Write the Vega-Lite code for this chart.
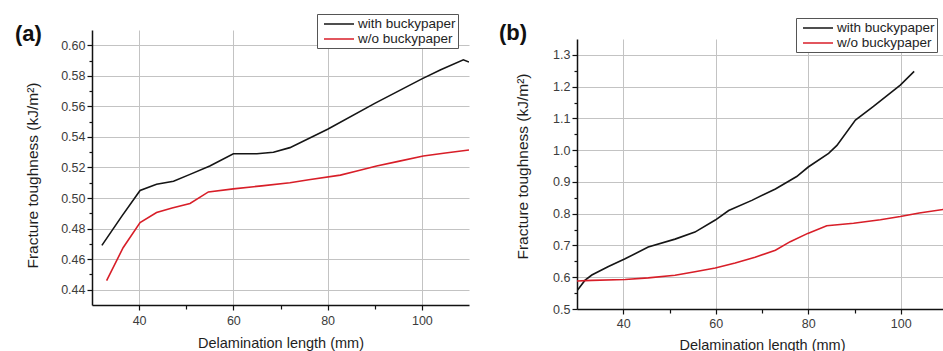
{
  "$schema": "https://vega.github.io/schema/vega-lite/v6.json",
  "padding": {"left": 15, "top": 13, "right": 0, "bottom": 0},
  "spacing": 30,
  "background": "white",
  "config": {
    "view": {"stroke": null},
    "font": "Liberation Sans",
    "axis": {
      "labelFont": "Liberation Sans",
      "titleFont": "Liberation Sans",
      "labelFontSize": 12.5,
      "titleFontSize": 14.5,
      "titleFontWeight": "normal",
      "labelColor": "#3c3c3c",
      "titleColor": "#1e1e1e",
      "domainColor": "#111111",
      "domainWidth": 1.5,
      "tickColor": "#111111",
      "tickWidth": 1.2,
      "gridColor": "#c3c3c3",
      "gridWidth": 1,
      "labelPadding": 3
    },
    "legend": {
      "labelFont": "Liberation Sans",
      "labelFontSize": 13.5,
      "labelColor": "#1e1e1e"
    },
    "title": {"font": "Liberation Sans", "fontWeight": "bold", "fontSize": 22, "color": "#111111"}
  },
  "resolve": {"scale": {"color": "independent"}, "legend": {"color": "independent"}},
  "datasets": {
    "panelA": [
      {"length": 32.1, "toughness": 0.469, "series": "with buckypaper"},
      {"length": 36.3, "toughness": 0.488, "series": "with buckypaper"},
      {"length": 40.2, "toughness": 0.505, "series": "with buckypaper"},
      {"length": 43.7, "toughness": 0.509, "series": "with buckypaper"},
      {"length": 47.3, "toughness": 0.511, "series": "with buckypaper"},
      {"length": 50.8, "toughness": 0.5155, "series": "with buckypaper"},
      {"length": 55.0, "toughness": 0.521, "series": "with buckypaper"},
      {"length": 60.0, "toughness": 0.529, "series": "with buckypaper"},
      {"length": 65.0, "toughness": 0.529, "series": "with buckypaper"},
      {"length": 68.5, "toughness": 0.530, "series": "with buckypaper"},
      {"length": 72.0, "toughness": 0.533, "series": "with buckypaper"},
      {"length": 80.0, "toughness": 0.545, "series": "with buckypaper"},
      {"length": 90.0, "toughness": 0.562, "series": "with buckypaper"},
      {"length": 100.0, "toughness": 0.578, "series": "with buckypaper"},
      {"length": 104.0, "toughness": 0.584, "series": "with buckypaper"},
      {"length": 108.8, "toughness": 0.5905, "series": "with buckypaper"},
      {"length": 110.0, "toughness": 0.589, "series": "with buckypaper"},
      {"length": 33.1, "toughness": 0.446, "series": "w/o buckypaper"},
      {"length": 36.6, "toughness": 0.4675, "series": "w/o buckypaper"},
      {"length": 40.2, "toughness": 0.484, "series": "w/o buckypaper"},
      {"length": 43.7, "toughness": 0.4905, "series": "w/o buckypaper"},
      {"length": 47.0, "toughness": 0.4935, "series": "w/o buckypaper"},
      {"length": 50.8, "toughness": 0.4965, "series": "w/o buckypaper"},
      {"length": 54.7, "toughness": 0.504, "series": "w/o buckypaper"},
      {"length": 60.0, "toughness": 0.506, "series": "w/o buckypaper"},
      {"length": 66.0, "toughness": 0.508, "series": "w/o buckypaper"},
      {"length": 72.0, "toughness": 0.510, "series": "w/o buckypaper"},
      {"length": 76.0, "toughness": 0.512, "series": "w/o buckypaper"},
      {"length": 82.7, "toughness": 0.515, "series": "w/o buckypaper"},
      {"length": 86.0, "toughness": 0.5175, "series": "w/o buckypaper"},
      {"length": 90.4, "toughness": 0.521, "series": "w/o buckypaper"},
      {"length": 95.0, "toughness": 0.524, "series": "w/o buckypaper"},
      {"length": 100.3, "toughness": 0.5275, "series": "w/o buckypaper"},
      {"length": 105.0, "toughness": 0.5295, "series": "w/o buckypaper"},
      {"length": 110.0, "toughness": 0.5315, "series": "w/o buckypaper"}
    ],
    "panelB": [
      {"length": 30.0, "toughness": 0.557, "series": "with buckypaper"},
      {"length": 31.7, "toughness": 0.590, "series": "with buckypaper"},
      {"length": 33.2, "toughness": 0.607, "series": "with buckypaper"},
      {"length": 36.8, "toughness": 0.634, "series": "with buckypaper"},
      {"length": 40.4, "toughness": 0.658, "series": "with buckypaper"},
      {"length": 45.4, "toughness": 0.695, "series": "with buckypaper"},
      {"length": 51.2, "toughness": 0.720, "series": "with buckypaper"},
      {"length": 55.5, "toughness": 0.742, "series": "with buckypaper"},
      {"length": 59.9, "toughness": 0.780, "series": "with buckypaper"},
      {"length": 62.8, "toughness": 0.810, "series": "with buckypaper"},
      {"length": 67.8, "toughness": 0.842, "series": "with buckypaper"},
      {"length": 72.9, "toughness": 0.878, "series": "with buckypaper"},
      {"length": 77.5, "toughness": 0.917, "series": "with buckypaper"},
      {"length": 80.0, "toughness": 0.947, "series": "with buckypaper"},
      {"length": 84.4, "toughness": 0.990, "series": "with buckypaper"},
      {"length": 86.2, "toughness": 1.015, "series": "with buckypaper"},
      {"length": 90.2, "toughness": 1.095, "series": "with buckypaper"},
      {"length": 94.1, "toughness": 1.138, "series": "with buckypaper"},
      {"length": 99.9, "toughness": 1.205, "series": "with buckypaper"},
      {"length": 102.9, "toughness": 1.248, "series": "with buckypaper"},
      {"length": 30.0, "toughness": 0.588, "series": "w/o buckypaper"},
      {"length": 33.2, "toughness": 0.590, "series": "w/o buckypaper"},
      {"length": 40.4, "toughness": 0.593, "series": "w/o buckypaper"},
      {"length": 45.4, "toughness": 0.598, "series": "w/o buckypaper"},
      {"length": 51.2, "toughness": 0.606, "series": "w/o buckypaper"},
      {"length": 55.5, "toughness": 0.617, "series": "w/o buckypaper"},
      {"length": 59.9, "toughness": 0.629, "series": "w/o buckypaper"},
      {"length": 64.2, "toughness": 0.645, "series": "w/o buckypaper"},
      {"length": 68.5, "toughness": 0.663, "series": "w/o buckypaper"},
      {"length": 72.9, "toughness": 0.685, "series": "w/o buckypaper"},
      {"length": 76.1, "toughness": 0.712, "series": "w/o buckypaper"},
      {"length": 79.9, "toughness": 0.738, "series": "w/o buckypaper"},
      {"length": 84.0, "toughness": 0.762, "series": "w/o buckypaper"},
      {"length": 89.8, "toughness": 0.770, "series": "w/o buckypaper"},
      {"length": 95.6, "toughness": 0.781, "series": "w/o buckypaper"},
      {"length": 99.9, "toughness": 0.791, "series": "w/o buckypaper"},
      {"length": 104.0, "toughness": 0.802, "series": "w/o buckypaper"},
      {"length": 110.0, "toughness": 0.815, "series": "w/o buckypaper"}
    ]
  },
  "hconcat": [
    {
      "width": 377,
      "height": 275,
      "data": {"name": "panelA"},
      "title": {"text": "(a)", "orient": "top", "anchor": "start", "frame": "group", "offset": 0, "baseline": "top", "align": "left", "dx": -77, "dy": 32},
      "mark": {"type": "line", "strokeWidth": 1.6, "clip": true},
      "encoding": {
        "x": {
          "field": "length", "type": "quantitative",
          "scale": {"domain": [30, 110], "nice": false, "zero": false},
          "axis": {
            "title": "Delamination length (mm)",
            "values": [40, 50, 60, 70, 80, 90, 100],
            "labelExpr": "datum.value % 20 == 0 ? datum.label : ''",
            "gridOpacity": {"condition": {"test": "datum.value % 20 == 0", "value": 1}, "value": 0},
            "tickSize": {"condition": {"test": "datum.value % 20 == 0", "value": 5}, "value": 4},
            "labelPadding": 4,
            "titlePadding": 10
          }
        },
        "y": {
          "field": "toughness", "type": "quantitative",
          "scale": {"domain": [0.43, 0.61], "nice": false, "zero": false},
          "axis": {
            "title": "Fracture toughness (kJ/m²)",
            "values": [0.44, 0.45, 0.46, 0.47, 0.48, 0.49, 0.5, 0.51, 0.52, 0.53, 0.54, 0.55, 0.56, 0.57, 0.58, 0.59, 0.6],
            "labelExpr": "round(datum.value * 100) % 2 == 0 ? format(datum.value, '.2f') : ''",
            "gridOpacity": {"condition": {"test": "round(datum.value * 100) % 2 == 0", "value": 1}, "value": 0},
            "tickSize": {"condition": {"test": "round(datum.value * 100) % 2 == 0", "value": 5}, "value": 3},
            "labelPadding": 2,
            "titleFontSize": 15.5,
            "titleX": -52,
            "titleY": 145
          }
        },
        "color": {
          "field": "series", "type": "nominal",
          "scale": {"domain": ["with buckypaper", "w/o buckypaper"], "range": ["#151515", "#d81e28"]},
          "legend": {
            "title": null, "orient": "none", "legendX": 225, "legendY": -16,
            "symbolType": "M-0.4286,0H3.857", "symbolSize": 196, "symbolStrokeWidth": 1.5,
            "padding": 2, "strokeColor": "#555555", "fillColor": "white",
            "rowPadding": 0, "labelOffset": 23
          }
        }
      }
    },
    {
      "spacing": -14,
      "resolve": {"scale": {"color": "independent"}, "legend": {"color": "independent"}},
      "vconcat": [
        {
          "width": 1,
          "height": 1,
          "data": {"values": [{"spacer": 0}]},
          "mark": {"type": "point", "opacity": 0, "size": 1}
        },
        {
          "width": 370,
          "height": 270,
          "data": {"name": "panelB"},
          "title": {"text": "(b)", "orient": "top", "anchor": "start", "frame": "group", "offset": 0, "baseline": "top", "align": "left", "dx": -78, "dy": 27},
          "mark": {"type": "line", "strokeWidth": 1.6, "clip": true},
          "encoding": {
            "x": {
              "field": "length", "type": "quantitative",
              "scale": {"domain": [30, 110], "nice": false, "zero": false},
              "axis": {
                "title": "Delamination length (mm)",
                "values": [40, 50, 60, 70, 80, 90, 100],
                "labelExpr": "datum.value % 20 == 0 ? datum.label : ''",
                "gridOpacity": {"condition": {"test": "datum.value % 20 == 0", "value": 1}, "value": 0},
                "tickSize": {"condition": {"test": "datum.value % 20 == 0", "value": 5}, "value": 4},
                "titlePadding": 9
              }
            },
            "y": {
              "field": "toughness", "type": "quantitative",
              "scale": {"domain": [0.5, 1.35], "nice": false, "zero": false},
              "axis": {
                "title": "Fracture toughness (kJ/m²)",
                "values": [0.5, 0.55, 0.6, 0.65, 0.7, 0.75, 0.8, 0.85, 0.9, 0.95, 1.0, 1.05, 1.1, 1.15, 1.2, 1.25, 1.3],
                "labelExpr": "round(datum.value * 100) % 10 == 0 ? format(datum.value, '.1f') : ''",
                "gridOpacity": {"condition": {"test": "round(datum.value * 100) % 10 == 0", "value": 1}, "value": 0},
                "tickSize": {"condition": {"test": "round(datum.value * 100) % 10 == 0", "value": 5}, "value": 3},
                "labelPadding": 2,
                "titleFontSize": 15.5,
                "titleX": -47,
                "titleY": 127
              }
            },
            "color": {
              "field": "series", "type": "nominal",
              "scale": {"domain": ["with buckypaper", "w/o buckypaper"], "range": ["#151515", "#d81e28"]},
              "legend": {
                "title": null, "orient": "none", "legendX": 219, "legendY": -21,
                "symbolType": "M-0.4286,0H3.857", "symbolSize": 196, "symbolStrokeWidth": 1.5,
                "padding": 2, "strokeColor": "#555555", "fillColor": "white",
                "rowPadding": 0, "labelOffset": 23
              }
            }
          }
        }
      ]
    }
  ]
}
